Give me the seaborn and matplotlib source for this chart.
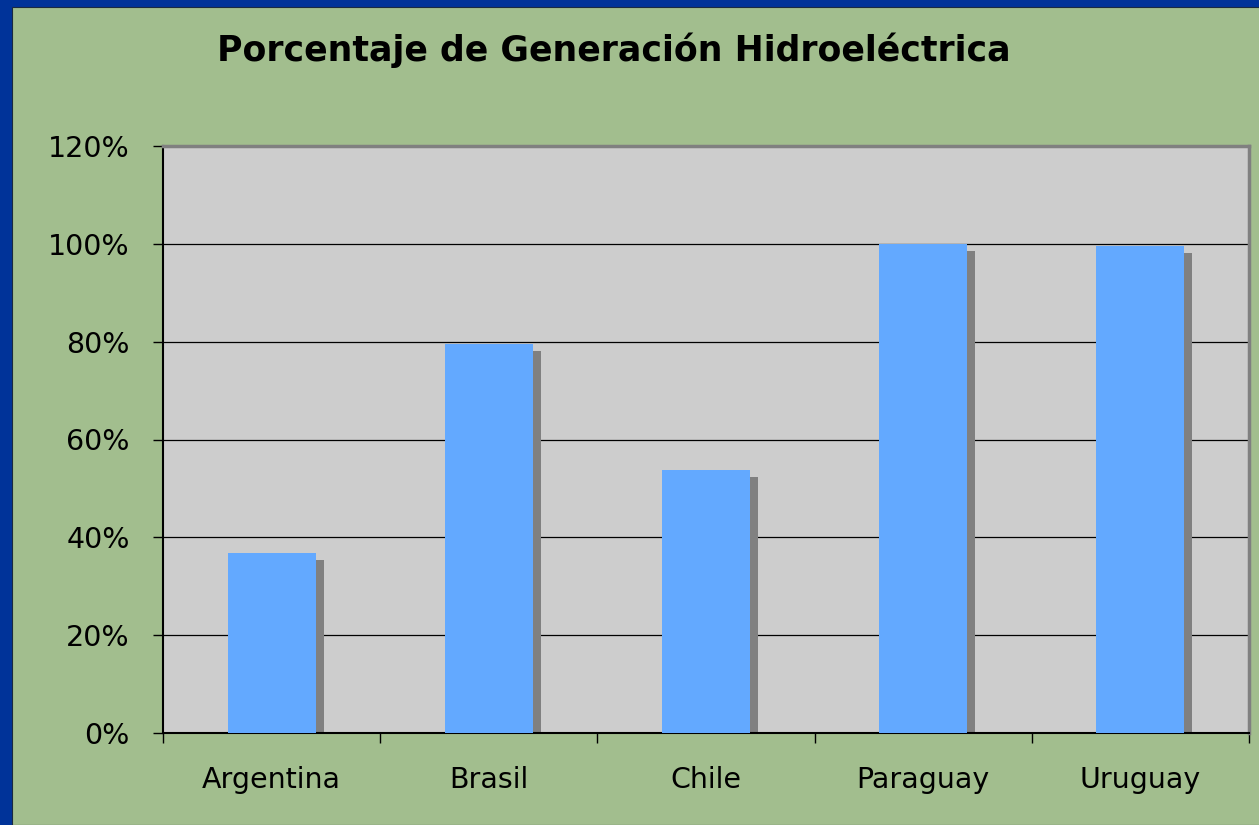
import pandas as pd
import matplotlib
matplotlib.use("Agg")
import matplotlib.pyplot as plt
import matplotlib.transforms as mtransforms
from matplotlib.patches import Rectangle
from matplotlib.ticker import FuncFormatter, FixedLocator
import seaborn as sns

# -------------------------
# Data
# -------------------------
paises = ["Argentina", "Brasil", "Chile", "Paraguay", "Uruguay"]
porcentaje = [36.8, 79.5, 53.8, 99.9, 99.5]
y_ticks = [0, 20, 40, 60, 80, 100, 120]

df = pd.DataFrame({"pais": paises, "pct": porcentaje})

# -------------------------
# Figure / background
# -------------------------
sns.set_style("white")
plt.rcParams['font.family'] = ['DejaVu Sans']
plt.rcParams['text.color'] = 'black'
plt.rcParams['xtick.color'] = 'black'
plt.rcParams['ytick.color'] = 'black'

fig = plt.figure(figsize=(12.59, 8.25), dpi=100)
fig.patch.set_facecolor("#003399")
# green panel inside the blue frame (frame only on top and left)
fig.patches.append(Rectangle((12 / 1259, 0), 1, 1 - 7 / 825, transform=fig.transFigure,
                             facecolor="#A2BE8E", edgecolor="#1a2a40", linewidth=0.8, zorder=-5))

ax = fig.add_axes([163 / 1259, 92 / 825, 1086 / 1259, 587 / 825])
ax.set_facecolor("#CDCDCD")

sns.barplot(data=df, x="pais", y="pct", color="#63A9FF", width=0.405,
            saturation=1, ax=ax, zorder=3)

# grey drop shadow behind each bar (offset right and down)
shift = mtransforms.ScaledTranslation(8 / 100, -7 / 100, fig.dpi_scale_trans)
for p in list(ax.patches):
    sh = Rectangle((p.get_x(), p.get_y()), p.get_width(), p.get_height(),
                   transform=ax.transData + shift, facecolor="#808080",
                   edgecolor="none", zorder=2)
    sh.set_clip_path(ax.patch)
    ax.add_patch(sh)
    p.set_edgecolor("none")

# -------------------------
# Axes styling
# -------------------------
ax.set_ylim(0, 120)
ax.set_xlim(-0.5, len(paises) - 0.5)
ax.set_yticks(y_ticks)
ax.yaxis.set_major_formatter(FuncFormatter(lambda v, _: f"{int(v)}%"))
ax.yaxis.grid(True, color="black", linewidth=0.9, zorder=1)
ax.set_axisbelow(True)

ax.xaxis.set_minor_locator(FixedLocator([i - 0.5 for i in range(len(paises) + 1)]))
ax.tick_params(axis="x", which="major", bottom=True, length=0, pad=24, labelsize=20.5)
ax.tick_params(axis="x", which="minor", bottom=True, length=7.2, width=1,
               color="black", direction="out")
ax.tick_params(axis="y", left=True, length=7.2, width=1, color="black",
               direction="out", pad=16.6, labelsize=20.5)

ax.set_xlabel("")
ax.set_ylabel("")

for side in ["top", "right"]:
    ax.spines[side].set_color("#808080")
    ax.spines[side].set_linewidth(2.5)
for side in ["left", "bottom"]:
    ax.spines[side].set_color("black")
    ax.spines[side].set_linewidth(1.5)

fig.text(614 / 1259, 1 - 50 / 825, "Porcentaje de Generación Hidroeléctrica",
         ha="center", va="center", fontsize=25, fontweight="bold", color="black")

fig.savefig("out.png", dpi=100, facecolor=fig.get_facecolor())
